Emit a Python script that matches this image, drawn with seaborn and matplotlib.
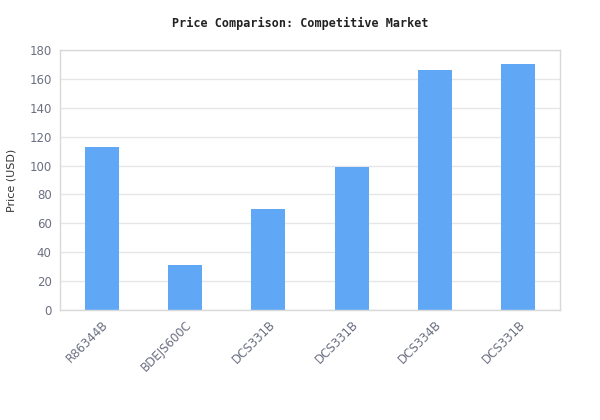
import matplotlib
matplotlib.use('Agg')
import matplotlib.pyplot as plt
import seaborn as sns
import pandas as pd

models = ['R86344B', 'BDEJS600C', 'DCS331B', 'DCS331B', 'DCS334B', 'DCS331B']
prices = [112.5, 31, 70, 99, 166, 170]

sns.set_theme(style='white')
plt.rcParams['font.family'] = ['DejaVu Sans']

df = pd.DataFrame({'pos': range(len(models)), 'price': prices})

fig = plt.figure(figsize=(6, 4.2), dpi=100)
ax = fig.add_axes([0.1, 0.262, 0.8333, 0.619])

sns.barplot(data=df, x='pos', y='price', color='#60a8f5', width=0.41,
            saturation=1, linewidth=0, ax=ax, zorder=2)

ax.set_ylim(0, 180)
ax.set_xlim(-0.5, len(models) - 0.5)
ax.set_yticks(range(0, 181, 20))
ax.set_xticks(range(len(models)))
ax.set_xticklabels(models, rotation=45, ha='right', rotation_mode='anchor')
ax.tick_params(axis='both', labelsize=8.5, colors='#6b6f80', length=0, pad=6)
ax.yaxis.grid(True, color='#e6e6e6', linewidth=1, zorder=0)
ax.set_axisbelow(True)
for s in ax.spines.values():
    s.set_color('#d9d9d9')
    s.set_linewidth(1)

ax.set_xlabel('')
ax.set_ylabel('Price (USD)', fontsize=8, color='#333333', labelpad=9)
fig.suptitle('Price Comparison: Competitive Market', y=0.96,
             fontsize=8.5, fontweight='bold', family='DejaVu Sans Mono', color='#222222')

fig.savefig('out.png', dpi=100)
